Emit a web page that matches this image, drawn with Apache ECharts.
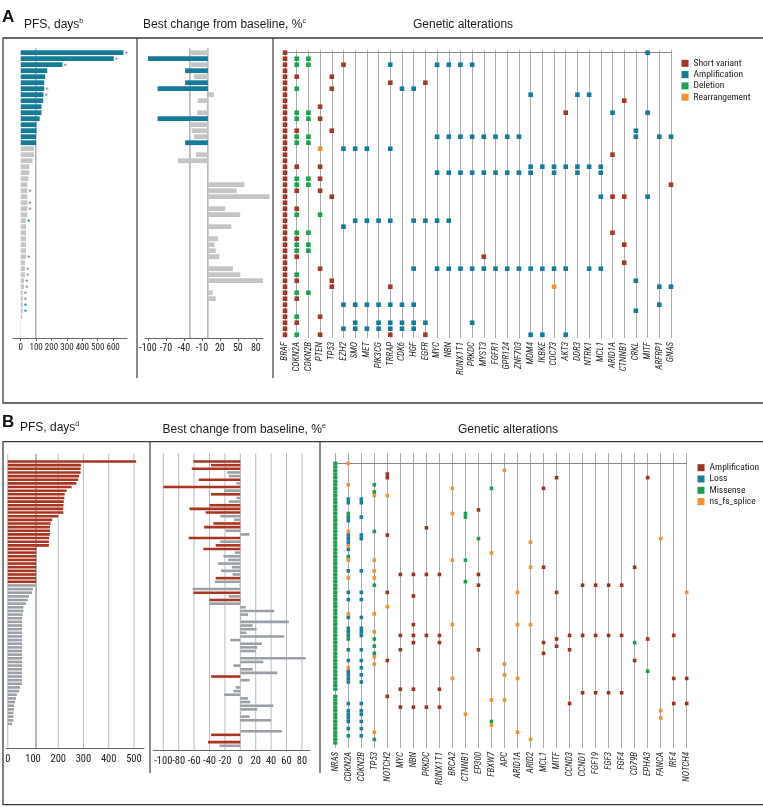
<!DOCTYPE html>
<html><head><meta charset="utf-8">
<script src="https://cdn.jsdelivr.net/npm/echarts@6/dist/echarts.min.js"></script>
<style>html,body{margin:0;padding:0;background:#fff}#c{width:763px;height:807px}</style>
</head><body><div id="c"></div>
<script>
// ---------------- Panel A data ----------------
const A_GENES = ['BRAF','CDKN2A','CDKN2B','PTEN','TP53','EZH2','SMO','MET','PIK3CG','TRRAP','CDK6','HGF','EGFR','MYC','NBN','RUNX1T1','PRKDC','MYST3','FGFR1','GPR124','ZNF703','MDM4','IKBKE','CDC73','AKT3','DDR3','NTRK1','MCL1','ARID1A','CTNNB1','CRKL','MITF','ARFRP1','GNAS'];
const A_PFS = [667,604,271,172,159,153,153,148,146,135,135,123,103,103,100,100,86,86,77,56,56,49,43,43,43,43,43,43,34,34,34,34,34,34,34,28,28,28,21,21,13,13,13,13,9,2,2,2];
const A_PFS_GROUP = 'bbbbbbbbbbbbbbbbgggggggggggggggggggggggggggggggg';
const A_STARS = ['g','g','g','','','','g','g','','','','','','','','','','','','','','','','g','','g','g','','b','','','','','','g','','g','g','g','g','g','g','b','b','','','',''];
const A_BEST = [-29,-100,-28,-38,-23,-38,-84,10,-17,-2,-18,-84,-29,-27,-23,-38,null,-20,-50,null,null,null,61,48,103,null,29,54,null,39,null,17,11,13,19,null,42,54,92,null,8,13,null,null,null,null,null,null];
const A_BEST_RESP = [1,3,5,6,11,15];
const A_PFS_TICKS = [0,100,200,300,400,500,600];
const A_PFS_REF = [98];
const A_BEST_TICKS = [-100,-70,-40,-10,20,50,80];
const A_BEST_REF = [-30,0];
const A_SHORT = [
  ['BRAF',[0,1,2,3,4,5,6,7,8,9,10,11,12,13,14,15,16,17,18,19,20,21,22,23,24,25,26,27,28,29,30,31,32,33,34,35,36,37,38,39,40,41,42,43,44,45,46,47]],
  ['CDKN2A',[4,13,19,23,26,31,34,38,41,45]],
  ['PTEN',[9,11,19,21,23,36,44,47]],
  ['TP53',[4,6,13,24,38,39]],
  ['EZH2',[2]],['TRRAP',[5,39,47]],['EGFR',[5,47]],['MYST3',[34]],['AKT3',[10]],
  ['ARID1A',[17,24,30]],['CTNNB1',[8,24,32,35]],['GNAS',[22]]
];
const A_AMP = [
  ['EZH2',[16,29,42,46]],['SMO',[16,28,42,45,46]],['MET',[16,28,42,46]],['PIK3CG',[28,42,45,46]],
  ['TRRAP',[2,16,28,42,45,46]],['CDK6',[6,42,45,46]],['HGF',[6,28,36,42,45,46]],['EGFR',[28,45]],
  ['MYC',[2,14,20,28,36]],['NBN',[2,14,20,28,36]],['RUNX1T1',[2,14,20,36]],['PRKDC',[2,14,20,36,45]],
  ['MYST3',[14,20,36]],['FGFR1',[14,20,36]],['GPR124',[14,20,36]],['ZNF703',[14,20,36]],
  ['MDM4',[7,19,20,36,47]],['IKBKE',[19,36,47]],['CDC73',[19,20,36]],['AKT3',[19,36,47]],
  ['DDR3',[7,19,20]],['NTRK1',[7,19,36]],['MCL1',[19,20,24,36]],['ARID1A',[10]],
  ['CRKL',[13,14,38,43]],['MITF',[0,10,24]],['ARFRP1',[14,39,42]],['GNAS',[14,39]]
];
const A_DEL = [
  ['CDKN2A',[1,2,6,10,11,14,15,21,22,27,30,32,33,37,40,44,47]],
  ['CDKN2B',[1,2,10,11,14,15,21,22,30,32,33,40]],
  ['PTEN',[27]]
];
const A_REARR = [['PTEN',[16]],['CDC73',[39]]];

// ---------------- Panel B data ----------------
const B_GENES = ['NRAS','CDKN2A','CDKN2B','TP53','NOTCH2','MYC','NBN','PRKDC','RUNX1T1','BRCA2','CTNNB1','EP300','FBXW7','APC','ARID1A','ARID2','MCL1','MITF','CCND3','CCND1','FGF19','FGF3','FGF4','CD79B','EPHA3','FANCA','IRF4','NOTCH4'];
const B_PFS = [509,290,289,289,283,279,272,253,233,226,224,222,221,220,220,200,176,170,167,167,167,164,163,163,114,113,113,113,112,112,112,112,112,112,
  108,100,96,84,80,72,62,62,59,57,57,57,57,57,57,57,57,57,57,57,57,57,57,57,56,56,56,56,49,45,36,33,29,25,25,22,22,22,17];
const B_PFS_HIGH = 34;
const B_BEST = [-61,-38,-63,-17,-15,-54,-5,-100,-21,-38,-5,-15,-40,-66,-45,-26,-8,-35,-47,-19,12,-67,-26,-32,-48,-7,-22,-16,-29,-11,-25,-10,-32,-33,-1,-62,-61,-15,-40,-40,7,44,10,1,63,16,21,8,57,-13,28,22,20,null,85,30,-9,16,48,-38,12,null,-6,-9,-21,10,13,43,22,1,12,40,null,null,54,-38,null,-42,-27];
const B_BEST_RESP = [0,1,2,5,7,9,12,13,14,17,18,21,23,24,32,36,38,59,75,77];
const B_PFS_TICKS = [0,100,200,300,400,500];
const B_PFS_GRID = [0,200,300,400,500];
const B_PFS_REF = [112];
const B_BEST_TICKS = [-100,-80,-60,-40,-20,0,20,40,60,80];
const B_AMP = [
  ['NOTCH2',[3,4,20,36,55,65]],['MYC',[31,48,52,63,68]],['NBN',[31,37,45,48,50,63,68]],
  ['PRKDC',[18,31,48,68]],['RUNX1T1',[31,48,50,63,68]],['EP300',[13,31,34,52]],
  ['MCL1',[7,29,50,53]],['MITF',[4,36,49,51]],['CCND3',[48,52,67]],['CCND1',[34,48,64]],
  ['FGF19',[34,48,64]],['FGF3',[34,48,64]],['FGF4',[34,48,64]],['CD79B',[29,55]],
  ['EPHA3',[4,49]],['IRF4',[48,60,67]],['NOTCH4',[60,67]]
];
const B_LOSS = [
  ['CDKN2A',[10,11,15,16,20,21,22,24,30,36,38,43,46,47,48,52,55,58,59,60,61,67,69,70,71,72,74]],
  ['CDKN2B',[10,11,15,20,21,30,36,38,43,46,47,48,52,55,57,59,61,67,69,70,72,74,76]]
];
const B_MISS = [
  ['NRAS',[0,1,2,3,4,5,6,7,8,9,10,11,12,13,14,15,16,17,18,19,20,21,22,23,24,25,26,27,28,29,30,31,32,33,34,35,36,37,38,39,40,41,42,43,44,45,46,47,48,49,50,51,52,53,54,55,56,57,58,59,60,61,62,63,65,66,67,68,69,70,71,72,73,74,75,76,77,78]],
  ['CDKN2A',[14,26,49,76]],['TP53',[6,8,19,34,49,51,53,77]],['CTNNB1',[14,15,27,33]],
  ['EP300',[21]],['FBXW7',[7,72]],['CD79B',[50]],['EPHA3',[58]]
];
const B_NSFS = [
  ['CDKN2A',[0,6,19,23,27,32,42,57]],['TP53',[9,27,30,32,42,47,54,56,75]],['NOTCH2',[9,40]],
  ['BRCA2',[7,14,27,45,60]],['CTNNB1',[70]],['FBXW7',[25,66,73]],['APC',[2,56,59,66]],
  ['ARID1A',[36,45,60,75]],['ARID2',[22,29,45,77]],['FANCA',[21,69,71]],['NOTCH4',[36]]
];

// ---------------- styling ----------------
const FONT = "'Liberation Sans Narrow','Arial Narrow','Roboto Condensed','DejaVu Sans Condensed','Liberation Sans',Arial,sans-serif";
const TFONT = "'Liberation Sans',Arial,Helvetica,sans-serif";
const TEAL='#167a99', GRAY_A='#c4c5c7', RED_A='#a03a2a', GREEN='#1da24e', ORANGE='#f39234';
const RED_B='#a93420', GRAY_B='#9aa0a5', AMP_B='#973424', LOSS_B='#1c7d9c', MISS_B='#1b9c50', NSFS_B='#f19232';

const ROWS_A = A_PFS.map((_, i) => String(i));
const ROWS_B = B_BEST.map((_, i) => String(i));
const pts = list => { const o=[]; list.forEach(([g,rows]) => rows.forEach(r => o.push([g,r]))); return o; };

const valAxis = (gi, min, max, ticks, opts) => ({
  gridIndex: gi, type:'value', min, max,
  axisLine:{show:true, lineStyle:{color:'#666', width:1}},
  axisTick:{show:!!opts.tick, customValues:ticks, length:3, lineStyle:{color:'#666'}},
  axisLabel:{customValues:ticks, fontSize:opts.fs, margin:opts.margin, color:'#222', fontFamily:FONT},
  splitLine:{show:false}
});
const hidX = (gi,min,max) => ({gridIndex:gi, type:'value', min, max, show:false, splitLine:{show:false}});
const catAxis = (gi, genes) => ({
  gridIndex: gi, type:'category', data: genes, boundaryGap:false,
  axisLine:{show:true, lineStyle:{color:'#888', width:1}}, axisTick:{show:false},
  axisLabel:{interval:0, rotate:90, fontSize:9, fontStyle:'italic', color:'#2a2a2a', margin:4, fontFamily:FONT},
  splitLine:{show:true, interval:0, lineStyle:{color:'#a9a9a9', width:1}}
});
const vLine = (xi, v, color) => ({type:'line', xAxisIndex:xi, yAxisIndex:xi, data:[[v,0],[v,1]], symbol:'none', silent:true, z:1, lineStyle:{color, width:1}, animation:false});

const titleStyle = () => ({fontSize:12, fontWeight:'normal', fontFamily:TFONT, color:'#1a1a1a', lineHeight:14,
  rich:{s:{fontSize:7, verticalAlign:'top', lineHeight:14, fontFamily:TFONT, color:'#1a1a1a'}}});

const option = {
  animation:false,
  backgroundColor:'#fff',
  title:[
    {text:'A', left:2, top:9, padding:0, textStyle:{fontSize:17, fontWeight:'bold', fontFamily:TFONT, color:'#111'}},
    {text:'PFS, days{s|b}', left:24, top:18, padding:0, textStyle:titleStyle()},
    {text:'Best change from baseline, %{s|c}', left:143, top:18, padding:0, textStyle:titleStyle()},
    {text:'Genetic alterations', left:413, top:18, padding:0, textStyle:titleStyle()},
    {text:'B', left:2, top:414, padding:0, textStyle:{fontSize:17, fontWeight:'bold', fontFamily:TFONT, color:'#111'}},
    {text:'PFS, days{s|d}', left:20, top:421, padding:0, textStyle:titleStyle()},
    {text:'Best change from baseline, %{s|e}', left:162.5, top:423, padding:0, textStyle:titleStyle()},
    {text:'Genetic alterations', left:458, top:423, padding:0, textStyle:titleStyle()}
  ],
  legend:[
    {left:681.5, top:57.8, orient:'vertical', padding:0, itemWidth:7, itemHeight:7, itemGap:0.3, icon:'rect', selectedMode:false,
     textStyle:{fontSize:9.5, lineHeight:11, color:'#222', fontFamily:FONT}, itemStyle:{borderWidth:0},
     data:['Short variant','Amplification','Deletion','Rearrangement']},
    {left:697.5, top:462.2, orient:'vertical', padding:0, itemWidth:7, itemHeight:7, itemGap:0.3, icon:'rect', selectedMode:false,
     textStyle:{fontSize:9.5, lineHeight:11, color:'#222', fontFamily:FONT}, itemStyle:{borderWidth:0},
     data:['Amplification ','Loss','Missense','ns_fs_splice']}
  ],
  grid:[
    {left:13, top:48.3, width:114, height:289.7},      // 0 A PFS frame
    {left:13, top:49.7, width:114, height:288},        // 1 A PFS bars
    {left:145, top:48.3, width:118, height:289.7},     // 2 A best frame
    {left:145, top:49.7, width:118, height:288},       // 3 A best bars
    {left:285, top:50, width:386, height:288},         // 4 A genetics
    {left:6, top:454, width:138, height:294},          // 5 B PFS frame
    {left:6, top:459.7, width:138, height:287.9},      // 6 B PFS bars
    {left:153.3, top:453, width:156.7, height:297},    // 7 B best frame
    {left:153.3, top:459.7, width:156.7, height:287.9},// 8 B best bars
    {left:335.3, top:453, width:351.4, height:295}     // 9 B genetics
  ],
  xAxis:[
    valAxis(0,-50,690,A_PFS_TICKS,{tick:true, fs:9, margin:5}),
    hidX(1,-50,690),
    valAxis(2,-105,92,A_BEST_TICKS,{tick:true, fs:10, margin:5}),
    hidX(3,-105,92),
    catAxis(4, A_GENES),
    valAxis(5,-7,540,B_PFS_TICKS,{tick:false, fs:10.5, margin:6}),
    hidX(6,-7,540),
    valAxis(7,-113,90.5,B_BEST_TICKS,{tick:false, fs:10.5, margin:6}),
    hidX(8,-113,90.5),
    catAxis(9, B_GENES)
  ],
  yAxis:[
    {gridIndex:0, type:'value', min:0, max:1, show:false},
    {gridIndex:1, type:'category', data:ROWS_A, inverse:true, show:false},
    {gridIndex:2, type:'value', min:0, max:1, show:false},
    {gridIndex:3, type:'category', data:ROWS_A, inverse:true, show:false},
    {gridIndex:4, type:'value', min:-0.45, max:47.55, inverse:true, show:false},
    {gridIndex:5, type:'value', min:0, max:1, show:false},
    {gridIndex:6, type:'category', data:ROWS_B, inverse:true, show:false},
    {gridIndex:7, type:'value', min:0, max:1, show:false},
    {gridIndex:8, type:'category', data:ROWS_B, inverse:true, show:false},
    {gridIndex:9, type:'value', min:-2.87, max:79.4, inverse:true, show:false}
  ],
  series:[]
};

const S = option.series;
A_PFS_REF.forEach(v => S.push(vLine(0, v, '#8a8a8a')));
A_BEST_REF.forEach(v => S.push(vLine(2, v, '#8a8a8a')));
S.push({type:'bar', xAxisIndex:1, yAxisIndex:1, barWidth:4.8, z:2,
  label:{position:'right', distance:1, formatter:'*', fontSize:9, fontFamily:TFONT, offset:[0,2]},
  data:A_PFS.map((v,i)=>({value:v, itemStyle:{color:A_PFS_GROUP[i]==='b'?TEAL:GRAY_A},
    label:{show:A_STARS[i]!=='', color:A_STARS[i]==='b'?TEAL:'#8c8c8c'}}))});
S.push({type:'bar', xAxisIndex:3, yAxisIndex:3, barWidth:4.8, z:2, clip:false,
  data:A_BEST.map((v,i)=>({value:v, itemStyle:{color:A_BEST_RESP.includes(i)?TEAL:GRAY_A}}))});
const scA = (name, list, color) => ({type:'scatter', name, xAxisIndex:4, yAxisIndex:4, symbol:'rect', symbolSize:4.6, z:3,
  itemStyle:{color, opacity:1}, data:pts(list)});
S.push(scA('Short variant', A_SHORT, RED_A));
S.push(scA('Amplification', A_AMP, TEAL));
S.push(scA('Deletion', A_DEL, GREEN));
S.push(scA('Rearrangement', A_REARR, ORANGE));
B_PFS_GRID.forEach(v => S.push(vLine(5, v, '#bdbdbd')));
B_PFS_REF.forEach(v => S.push(vLine(5, v, '#6f6f6f')));
B_BEST_TICKS.forEach(v => S.push(vLine(7, v, '#bdbdbd')));
S.push({type:'bar', xAxisIndex:6, yAxisIndex:6, barWidth:2.6, z:2,
  data:B_PFS.map((v,i)=>({value:v, itemStyle:{color:i<B_PFS_HIGH?RED_B:GRAY_B}}))});
S.push({type:'bar', xAxisIndex:8, yAxisIndex:8, barWidth:2.6, z:2,
  data:B_BEST.map((v,i)=>({value:v, itemStyle:{color:B_BEST_RESP.includes(i)?RED_B:GRAY_B}}))});
const scB = (name, list, color) => ({type:'scatter', name, xAxisIndex:9, yAxisIndex:9, symbol:'rect', z:3,
  symbolSize:(val)=> val[0]==='NRAS' ? [4.2,3.3] : 3.6,
  itemStyle:{color, opacity:1}, data:pts(list)});
S.push(scB('Amplification ', B_AMP, AMP_B));
S.push(scB('Loss', B_LOSS, LOSS_B));
S.push(scB('Missense', B_MISS, MISS_B));
S.push(scB('ns_fs_splice', B_NSFS, NSFS_B));

option.graphic = [
  {type:'rect', silent:true, shape:{x:3, y:38, width:800, height:365}, style:{fill:'none', stroke:'#3c3c3c', lineWidth:1.3}},
  {type:'line', silent:true, shape:{x1:137, y1:38, x2:137, y2:378}, style:{stroke:'#3c3c3c', lineWidth:1.2}},
  {type:'line', silent:true, shape:{x1:273, y1:38, x2:273, y2:378}, style:{stroke:'#3c3c3c', lineWidth:1.2}},
  {type:'rect', silent:true, shape:{x:3, y:441.7, width:800, height:363}, style:{fill:'none', stroke:'#3c3c3c', lineWidth:1.3}},
  {type:'line', silent:true, shape:{x1:150, y1:442, x2:150, y2:773}, style:{stroke:'#3c3c3c', lineWidth:1.2}},
  {type:'line', silent:true, shape:{x1:320, y1:442, x2:320, y2:773}, style:{stroke:'#3c3c3c', lineWidth:1.2}}
];

const chart = echarts.init(document.getElementById('c'), null, {renderer:'canvas', width:763, height:807});
chart.setOption(option);
</script></body></html>
